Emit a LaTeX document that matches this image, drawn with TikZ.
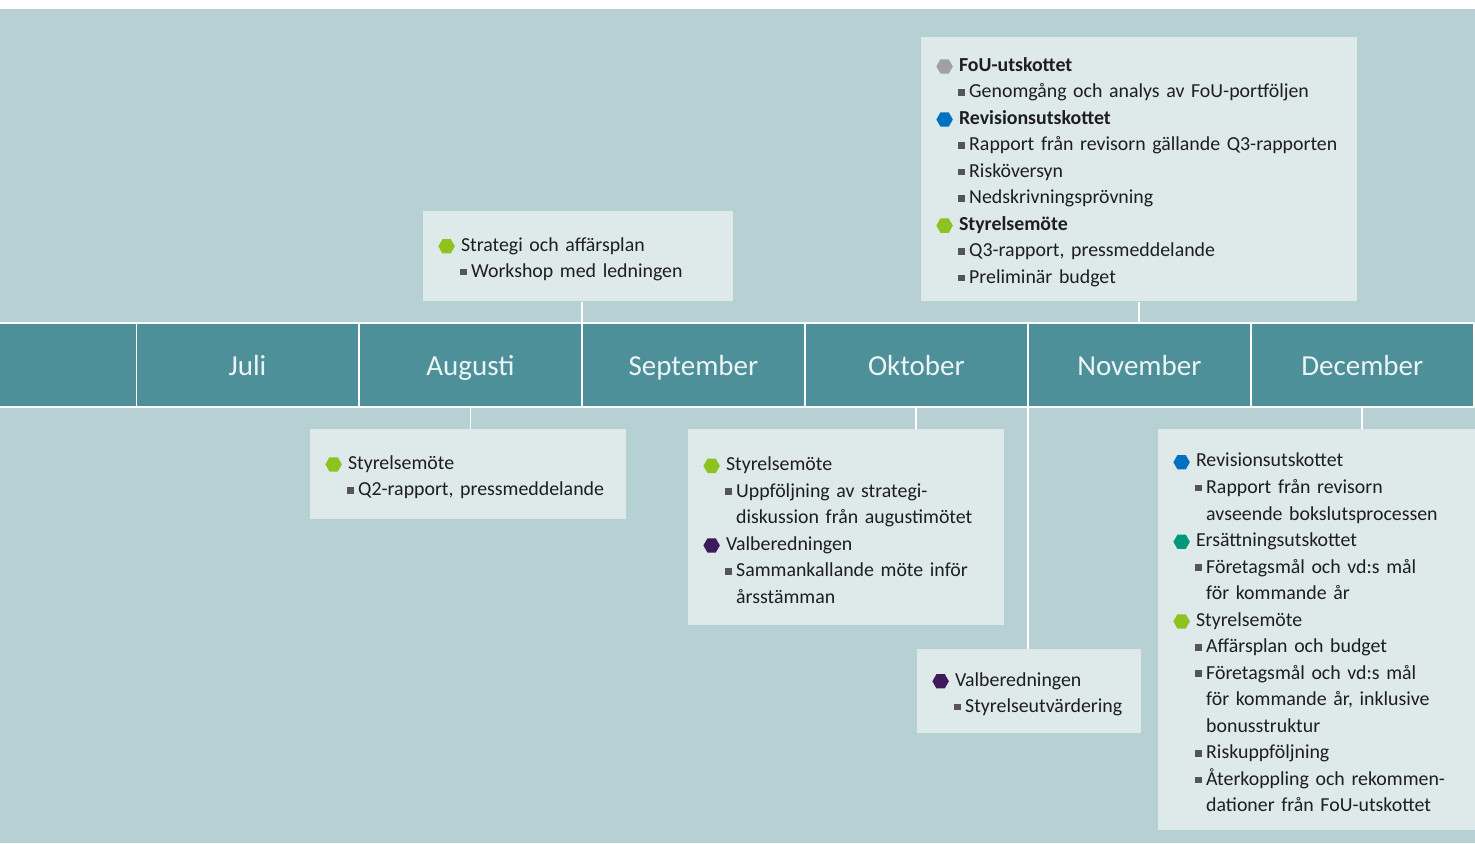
\documentclass[tikz,border=0pt]{standalone}
\usepackage{fontspec}
\setmainfont{Carlito}[WordSpace=0.85]
\usepackage{tikz}
\usetikzlibrary{positioning}
\definecolor{bgfill}{RGB}{183,208,212}
\definecolor{bandfill}{RGB}{78,144,153}
\definecolor{boxfill}{RGB}{222,233,234}
\definecolor{monthtext}{RGB}{236,244,245}
\definecolor{bodytext}{RGB}{30,30,30}
\definecolor{bulletgray}{RGB}{85,85,85}
\definecolor{hexgreen}{RGB}{141,194,31}
\definecolor{hexblue}{RGB}{0,112,192}
\definecolor{hexgray}{RGB}{160,160,160}
\definecolor{hexteal}{RGB}{0,152,122}
\definecolor{hexpurple}{RGB}{62,26,92}
\newcommand{\hexbul}[1]{\tikz[baseline=-0.5ex]\fill[#1] (0:4.7pt) -- (60:4.7pt) -- (120:4.7pt) -- (180:4.7pt) -- (240:4.7pt) -- (300:4.7pt) -- cycle;}
\newcommand{\bhead}[2]{\rule{0pt}{11pt}\hexbul{#1}\hspace{3.5pt}#2}
\newcommand{\bpoint}[1]{\hspace*{12.5pt}\textcolor{bulletgray}{\rule[0.22ex]{3.8pt}{3.8pt}}\hspace{2.4pt}#1}
\newcommand{\bcont}[1]{\hspace*{18.7pt}#1}
\tikzset{
    month/.style={
        rectangle,
        draw=white,
        line width=0.9pt,
        fill=bandfill,
        minimum width=4.46cm,
        minimum height=1.68cm,
        inner sep=0pt,
        outer sep=0pt,
        text height=13pt,
        text depth=1.5pt,
        text=monthtext,
        font=\fontsize{16.5pt}{18pt}\selectfont
    },
    evbox/.style={
        rectangle,
        fill=boxfill,
        anchor=north west,
        align=left,
        inner xsep=0.3cm,
        inner ysep=0pt,
        text=bodytext,
        font=\fontsize{11.3pt}{15.1pt}\selectfont
    },
    link/.style={
        draw=white,
        line width=1pt
    }
}
\begin{document}
\begin{tikzpicture}[x=0.02cm, y=-0.02cm]

% Canvas
\useasboundingbox (0,0) rectangle (1475,843);
\fill[white] (0,0) rectangle (1475,843);
\fill[bgfill] (0,9) rectangle (1475,843);

% Months
\node[month] (jul) at (247.5,365) {Juli};
\node[month, right=0pt of jul] (aug) {Augusti};
\node[month, right=0pt of aug] (sep) {September};
\node[month, right=0pt of sep] (okt) {Oktober};
\node[month, right=0pt of okt] (nov) {November};
\node[month, right=0pt of nov] (dec) {December};
\fill[bandfill] (0,323) rectangle (jul.south west);
\draw[white, line width=0.9pt] (0,323) -- (jul.north west);
\draw[white, line width=0.9pt] (0,407) -- (jul.south west);

% Above the band
\node[evbox, minimum width=6.2cm, minimum height=1.8cm, text width=5.6cm] (stratbox) at (423,211) {%
\bhead{hexgreen}{Strategi och affärsplan}\\
\bpoint{Workshop med ledningen}};

\node[evbox, minimum width=8.72cm, minimum height=5.28cm, text width=8.12cm] (foubox) at (921,37) {%
\bhead{hexgray}{\textbf{FoU-utskottet}}\\
\bpoint{Genomgång och analys av FoU-portföljen}\\
\bhead{hexblue}{\textbf{Revisionsutskottet}}\\
\bpoint{Rapport från revisorn gällande Q3-rapporten}\\
\bpoint{Risköversyn}\\
\bpoint{Nedskrivningsprövning}\\
\bhead{hexgreen}{\textbf{Styrelsemöte}}\\
\bpoint{Q3-rapport, pressmeddelande}\\
\bpoint{Preliminär budget}};

% Below the band
\node[evbox, minimum width=6.32cm, minimum height=1.8cm, text width=5.72cm] (augbox) at (310,429) {%
\bhead{hexgreen}{Styrelsemöte}\\
\bpoint{Q2-rapport, pressmeddelande}};

\node[evbox, minimum width=6.32cm, minimum height=3.92cm, text width=5.72cm] (oktbox) at (688,429) {%
\bhead{hexgreen}{Styrelsemöte}\\
\bpoint{Uppföljning av strategi-}\\
\bcont{diskussion från augustimötet}\\
\bhead{hexpurple}{Valberedningen}\\
\bpoint{Sammankallande möte inför}\\
\bcont{årsstämman}};

\node[evbox, minimum width=4.48cm, minimum height=1.68cm, text width=3.88cm] (novbox) at (917,649) {%
\bhead{hexpurple}{Valberedningen}\\
\bpoint{Styrelseutvärdering}};

\node[evbox, minimum width=6.34cm, minimum height=8.02cm, text width=5.74cm] (decbox) at (1158,429) {%
\bhead{hexblue}{Revisionsutskottet}\\
\bpoint{Rapport från revisorn}\\
\bcont{avseende bokslutsprocessen}\\
\bhead{hexteal}{Ersättningsutskottet}\\
\bpoint{Företagsmål och vd:s mål}\\
\bcont{för kommande år}\\
\bhead{hexgreen}{Styrelsemöte}\\
\bpoint{Affärsplan och budget}\\
\bpoint{Företagsmål och vd:s mål}\\
\bcont{för kommande år, inklusive}\\
\bcont{bonusstruktur}\\
\bpoint{Riskuppföljning}\\
\bpoint{Återkoppling och rekommen-}\\
\bcont{dationer från FoU-utskottet}};

% Connections
\draw[link] (stratbox.south -| aug.north east) -- (aug.north east);
\draw[link] (foubox.south) -- (foubox.south |- nov.north);
\draw[link] (aug.south) -- (aug.south |- augbox.north);
\draw[link] (okt.south) -- (okt.south |- oktbox.north);
\draw[link] (okt.south east) -- (okt.south east |- novbox.north);
\draw[link] (dec.south) -- (dec.south |- decbox.north);

\end{tikzpicture}
\end{document}
